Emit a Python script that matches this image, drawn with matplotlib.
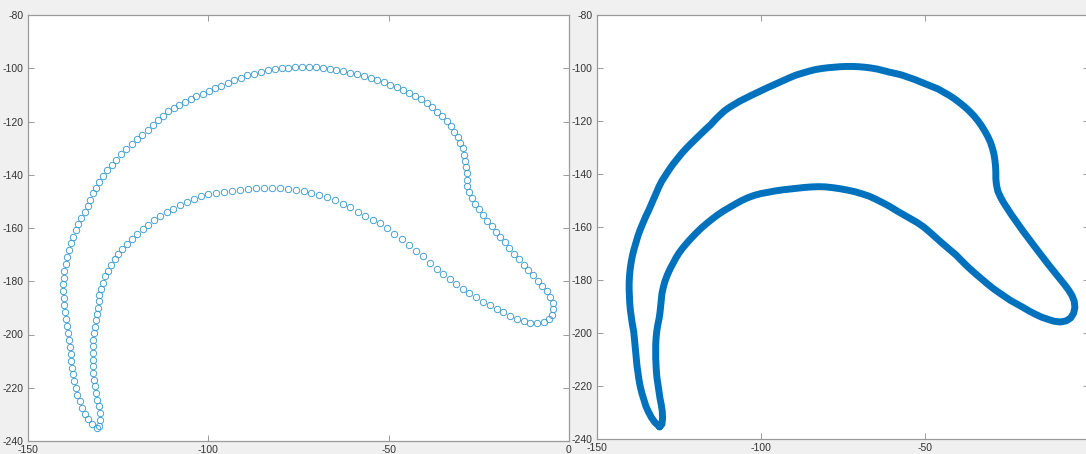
import matplotlib.pyplot as plt

# outline points, going round the loop from the bottom tip
xs = [-130.9, -132.3, -133.4, -134.3, -135.1, -135.7, -136.3, -136.8, -137.2, -137.5,
      -137.8, -138.0, -138.2, -138.4, -138.6, -138.8, -139.2, -139.5, -139.8, -140.0,
      -140.1, -140.2, -140.2, -140.1, -139.9, -139.6, -139.2, -138.7, -138.1, -137.5,
      -136.8, -136.0, -135.2, -134.3, -133.5, -132.7, -131.9, -131.1, -130.2, -129.1,
      -128.0, -126.8, -125.5, -124.2, -122.8, -121.3, -119.8, -118.3, -116.8, -115.3,
      -114.0, -112.6, -111.1, -109.6, -108.0, -106.5, -104.9, -103.3, -101.6, -99.9,
      -98.2, -96.4, -94.6, -92.8, -91.0, -89.2, -87.3, -85.4, -83.5, -81.6,
      -79.7, -77.8, -75.9, -74.0, -72.1, -70.2, -68.3, -66.4, -64.5, -62.6,
      -60.7, -58.8, -56.9, -55.0, -53.2, -51.4, -49.6, -47.8, -46.0, -44.3,
      -42.6, -41.0, -39.4, -37.9, -36.5, -35.1, -33.9, -32.8, -31.8, -30.9,
      -30.1, -29.5, -29.0, -28.7, -28.5, -28.4, -28.4, -28.2, -27.8, -27.0,
      -26.0, -24.9, -23.8, -22.6, -21.4, -20.2, -19.0, -17.8, -16.5, -15.2,
      -13.9, -12.6, -11.3, -10.0, -8.7, -7.4, -6.2, -5.2, -4.5, -4.3,
      -4.7, -5.6, -7.0, -8.8, -10.7, -12.5, -14.4, -16.3, -18.2, -20.1,
      -22.0, -23.9, -25.8, -27.6, -29.4, -31.2, -33.0, -34.8, -36.7, -38.6,
      -40.5, -42.4, -44.4, -46.4, -48.4, -50.4, -52.4, -54.4, -56.5, -58.6,
      -60.7, -62.8, -64.9, -67.0, -69.2, -71.4, -73.6, -75.8, -78.0, -80.2,
      -82.4, -84.6, -86.8, -89.0, -91.2, -93.4, -95.6, -97.8, -100.0, -102.1,
      -104.1, -106.0, -107.9, -109.7, -111.5, -113.3, -115.0, -116.6, -118.2, -119.7,
      -121.1, -122.5, -123.8, -125.0, -126.0, -126.9, -127.8, -128.6, -129.3, -129.8,
      -130.2, -130.4, -130.6, -130.8, -131.1, -131.5, -131.8, -132.0, -132.1, -132.1,
      -132.1, -132.0, -131.9, -131.7, -131.4, -131.1, -130.8, -130.4, -130.1, -130.0,
      -130.2]
ys = [-235.3, -233.7, -231.8, -229.7, -227.5, -225.1, -222.7, -220.2, -217.6, -215.0,
      -212.4, -209.8, -207.2, -204.6, -202.0, -199.4, -196.8, -194.2, -191.6, -189.0,
      -186.4, -183.8, -181.2, -178.6, -176.0, -173.4, -170.8, -168.3, -165.8, -163.3,
      -160.9, -158.5, -156.2, -153.9, -151.6, -149.3, -147.0, -144.8, -142.6, -140.5,
      -138.4, -136.3, -134.3, -132.3, -130.4, -128.5, -126.7, -124.9, -123.1, -121.4,
      -119.6, -117.9, -116.2, -114.9, -113.7, -112.6, -111.6, -110.6, -109.6, -108.6,
      -107.6, -106.6, -105.6, -104.6, -103.6, -102.7, -102.0, -101.3, -100.7, -100.3,
      -100.0, -99.8, -99.6, -99.5, -99.5, -99.6, -99.8, -100.1, -100.5, -101.1,
      -101.7, -102.2, -102.8, -103.6, -104.4, -105.3, -106.2, -107.1, -108.0, -109.2,
      -110.4, -111.7, -113.2, -114.7, -116.3, -118.1, -119.9, -121.8, -123.8, -125.8,
      -127.9, -130.1, -132.4, -134.7, -137.0, -139.4, -141.8, -144.2, -146.5, -148.7,
      -150.9, -153.0, -155.1, -157.2, -159.3, -161.4, -163.4, -165.4, -167.5, -169.6,
      -171.7, -173.8, -175.8, -177.8, -179.8, -181.8, -183.8, -185.8, -188.0, -190.3,
      -192.5, -194.3, -195.4, -195.8, -195.5, -194.8, -194.0, -192.9, -191.7, -190.3,
      -189.0, -187.7, -186.1, -184.6, -183.0, -181.2, -179.3, -177.4, -175.3, -173.0,
      -170.6, -168.6, -166.5, -164.3, -162.1, -160.0, -158.3, -156.9, -155.4, -153.9,
      -152.3, -150.9, -149.6, -148.4, -147.5, -146.7, -146.1, -145.6, -145.2, -144.9,
      -144.8, -144.9, -145.1, -145.4, -145.7, -146.0, -146.4, -146.9, -147.4, -148.1,
      -149.0, -150.1, -151.4, -152.7, -154.0, -155.5, -157.1, -158.7, -160.4, -162.2,
      -164.0, -165.9, -167.8, -169.8, -171.8, -173.9, -176.0, -178.2, -180.5, -182.8,
      -185.1, -187.5, -189.9, -192.3, -194.7, -197.1, -199.5, -202.0, -204.5, -207.0,
      -209.5, -212.0, -214.5, -217.0, -219.5, -222.0, -224.5, -227.0, -229.5, -232.0,
      -234.3]

xticks_left = [-150, -100, -50, 0]
xticks_right = [-150, -100, -50]
yticks = [-240, -220, -200, -180, -160, -140, -120, -100, -80]

bg = "#f0f0f0"
plt.rcParams['font.family'] = ['Liberation Sans', 'DejaVu Sans']
plt.rcParams['axes.unicode_minus'] = False
fig = plt.figure(figsize=(10.86, 4.54), dpi=100, facecolor=bg)

ax1 = fig.add_axes([28/1086, 13/454, 541/1086, 426/454])
ax2 = fig.add_axes([597/1086, 14.7/454, 492/1086, 424.6/454])

ax1.plot(xs, ys, 'o', mfc='none', mec='#3d9bcf', ms=4.6, mew=0.65)
ax2.plot(xs + xs[:1], ys + ys[:1], '-', color='#0072bd', lw=5.0,
         solid_joinstyle='round', solid_capstyle='round')

for ax, xt in ((ax1, xticks_left), (ax2, xticks_right)):
    ax.set_xlim(-150, 0)
    ax.set_ylim(-240, -80)
    ax.set_xticks(xt)
    ax.set_yticks(yticks)
    ax.set_facecolor('white')
    ax.tick_params(direction='in', length=4, width=0.6, color='#8a8a8a',
                   labelsize=7.5, labelcolor='#333333', top=True, right=True,
                   pad=3)
    for s in ax.spines.values():
        s.set_color('#9a9a9a')
        s.set_linewidth(0.9)

fig.savefig("out.png", dpi=100, facecolor=bg)
